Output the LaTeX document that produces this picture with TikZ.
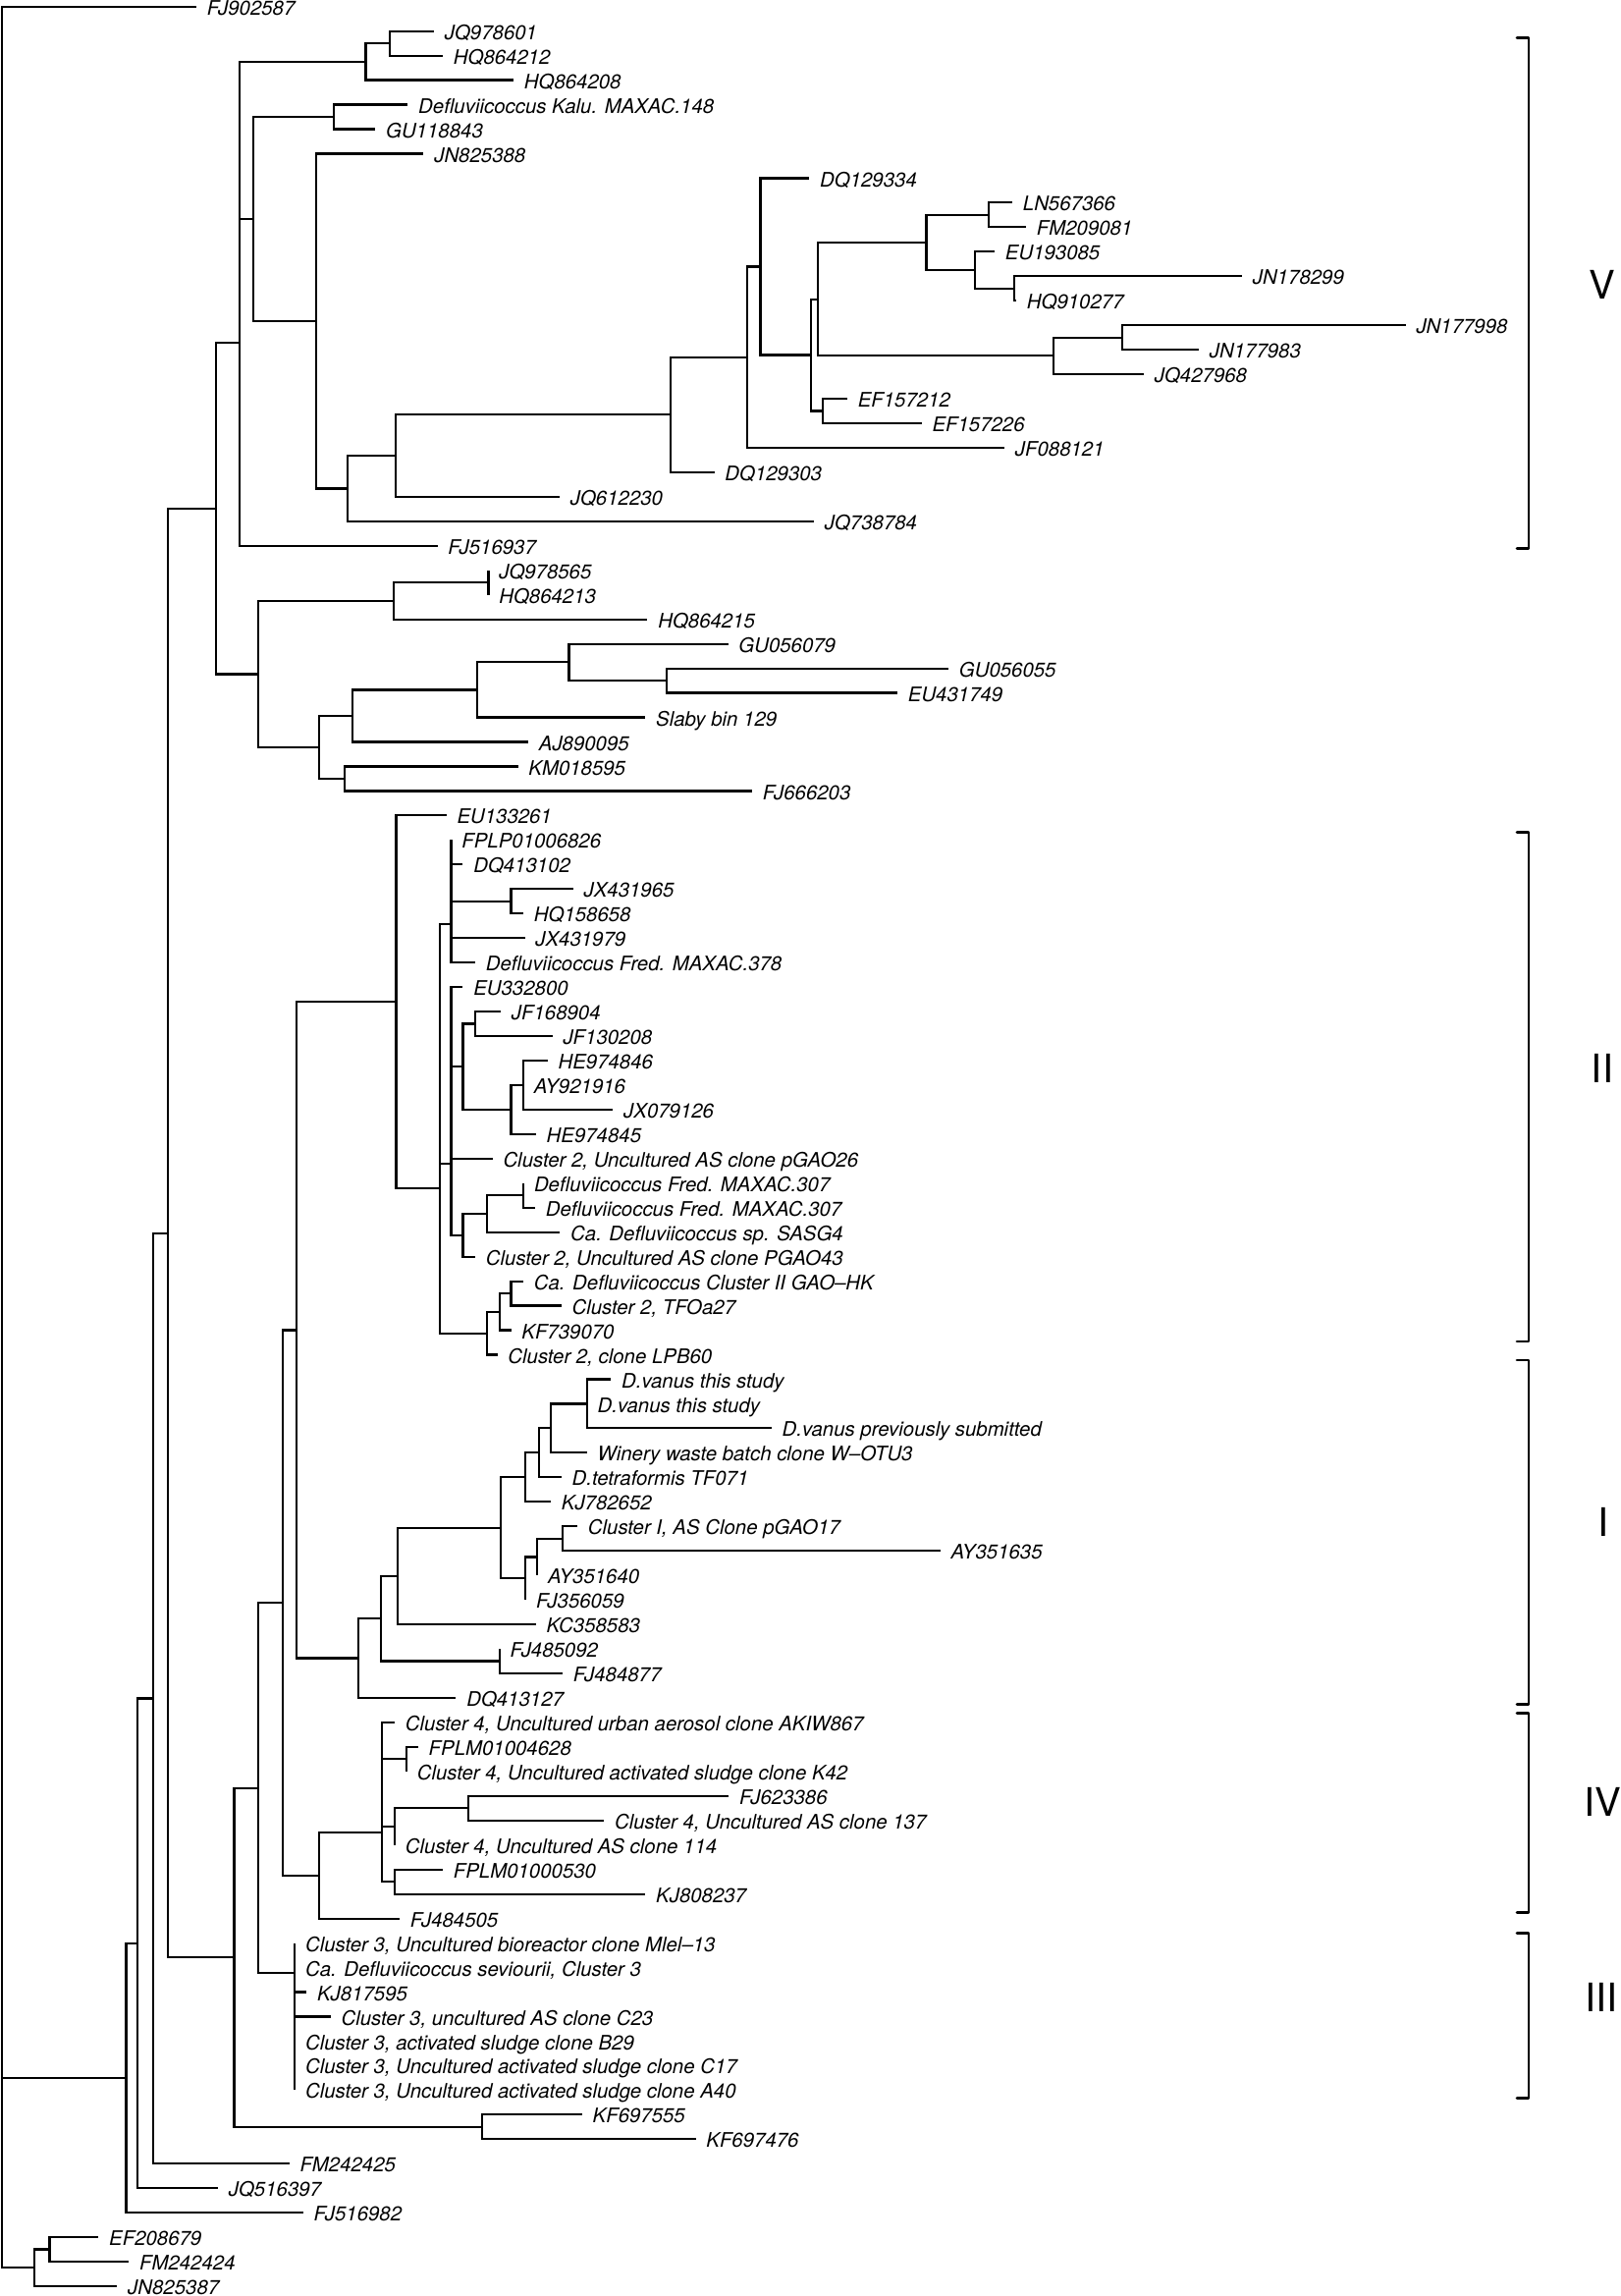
\documentclass[tikz,border=0pt]{standalone}
\usepackage{fontspec}
\setmainfont{TeX Gyre Heros}
\newcommand\leaf[4]{\coordinate (t#1) at (#2,#3); \node[lab] (l#1) at (t#1) {#4};}
\begin{document}
\begin{tikzpicture}[x=0.5pt,y=-0.5pt,
  br/.style={line width=1.1pt},
  lab/.style={anchor=base west, inner sep=0pt, xshift=5.25pt, yshift=-4.3pt, font=\fontsize{10.2}{12}\selectfont\itshape},
  roman/.style={font=\fontsize{20}{24}\selectfont, inner sep=0pt},
  brk/.style={line width=1.4pt, line join=round, line cap=round}]
\fill[white] (0,0) rectangle (1650,2338);
\path[use as bounding box] (0,0) rectangle (1650,2338);
% internal nodes
\coordinate (root) at (2,1160);
\coordinate (nOg) at (35,2309.26);
\coordinate (nOg1) at (50.5,2290.54);
\coordinate (nW) at (128.4,2115.94);
\coordinate (nV) at (140.3,1978.77);
\coordinate (nU) at (155.7,1729.39);
\coordinate (nH) at (171,1255.59);
\coordinate (nG) at (219.6,517.93);
\coordinate (nF) at (244,349.38);
\coordinate (nB) at (372.5,62.86);
\coordinate (nA) at (397,44.14);
\coordinate (nD) at (258,223);
\coordinate (nC) at (340,119.02);
\coordinate (nE) at (322,326.98);
\coordinate (nI) at (354.3,497.49);
\coordinate (nJ) at (402.7,464.12);
\coordinate (nK) at (682.6,422.34);
\coordinate (nL) at (761,363.75);
\coordinate (nM) at (774.5,271.51);
\coordinate (nN) at (825.7,361.6);
\coordinate (nO) at (832.7,304.66);
\coordinate (nP) at (943.5,246.94);
\coordinate (nPa) at (1006.7,218.86);
\coordinate (nPb) at (992.6,275.02);
\coordinate (nPc) at (1032.6,293.74);
\coordinate (nQ) at (1073.3,362.38);
\coordinate (nR) at (1142.8,343.66);
\coordinate (nEF) at (838.3,418.54);
\coordinate (nS) at (263,686.47);
\coordinate (nSa) at (400.6,611.98);
\coordinate (nSb) at (497.4,593.26);
\coordinate (nS2) at (324.8,760.96);
\coordinate (nS3) at (359.2,728.98);
\coordinate (nS5) at (486.1,702.46);
\coordinate (nS6) at (579.4,674.38);
\coordinate (nS7) at (679,693.1);
\coordinate (nS4) at (350.8,792.94);
\coordinate (nX340) at (238.5,1993.24);
\coordinate (nX375) at (263,1820.74);
\coordinate (nX410) at (287.6,1632.18);
\coordinate (nX2) at (301.6,1354.46);
\coordinate (nII) at (403.4,1020.34);
\coordinate (nIIb) at (447.6,1210.3);
\coordinate (nIIc) at (459.5,940.7);
\coordinate (nJX) at (520.5,917.74);
\coordinate (nIId) at (459.5,1185.2);
\coordinate (nEU) at (471.4,1086.22);
\coordinate (nJF) at (484,1042.54);
\coordinate (nHE) at (520.5,1129.9);
\coordinate (nHEa) at (533,1104.94);
\coordinate (nM7) at (471.4,1257.82);
\coordinate (nM7a) at (496,1235.98);
\coordinate (nM7p) at (533.1,1217.26);
\coordinate (nIIe) at (496,1357.66);
\coordinate (nKF) at (508.6,1335.82);
\coordinate (nGAO) at (520.5,1317.1);
\coordinate (nI0) at (364.8,1688.58);
\coordinate (nKe) at (388,1648.21);
\coordinate (nKd) at (404.8,1604.92);
\coordinate (nKc) at (510,1555.78);
\coordinate (nKa) at (535.3,1504.3);
\coordinate (nTn) at (548.6,1479.34);
\coordinate (nWn) at (561,1454.38);
\coordinate (nDv) at (597.7,1429.42);
\coordinate (nKb) at (535.3,1607.26);
\coordinate (nAYa) at (547.2,1585.42);
\coordinate (nPg) at (573,1566.7);
\coordinate (nFJn) at (508.6,1691.5);
\coordinate (nX463) at (324.8,1909.9);
\coordinate (nIV) at (389.3,1866.22);
\coordinate (nK42) at (413.9,1791.34);
\coordinate (nIVa) at (402,1859.98);
\coordinate (nF137) at (477,1841.26);
\coordinate (nIVb) at (402,1916.14);
\coordinate (nC3) at (300.2,2009.3);
\coordinate (nKFc) at (491,2165.74);
% leaves
\leaf{1}{200}{6.7}{FJ902587}
\leaf{2}{442}{31.66}{JQ978601}
\leaf{3}{451}{56.62}{HQ864212}
\leaf{4}{523}{81.58}{HQ864208}
\leaf{5}{415.3}{106.54}{Defluviicoccus Kalu. MAXAC.148}
\leaf{6}{382.3}{131.5}{GU118843}
\leaf{7}{431.4}{156.46}{JN825388}
\leaf{8}{824.3}{181.42}{DQ129334}
\leaf{9}{1031}{206.38}{LN567366}
\leaf{10}{1045}{231.34}{FM209081}
\leaf{11}{1013}{256.3}{EU193085}
\leaf{12}{1265}{281.26}{JN178299}
\leaf{13}{1035}{306.22}{HQ910277}
\leaf{14}{1431.6}{331.18}{JN177998}
\leaf{15}{1221}{356.14}{JN177983}
\leaf{16}{1165}{381.1}{JQ427968}
\leaf{17}{862.9}{406.06}{EF157212}
\leaf{18}{938.6}{431.02}{EF157226}
\leaf{19}{1023}{455.98}{JF088121}
\leaf{20}{727.5}{480.94}{DQ129303}
\leaf{21}{570}{505.9}{JQ612230}
\leaf{22}{829}{530.86}{JQ738784}
\leaf{23}{445.5}{555.82}{FJ516937}
\leaf{24}{497.4}{580.78}{JQ978565}
\leaf{25}{497.4}{605.74}{HQ864213}
\leaf{26}{659.4}{630.7}{HQ864215}
\leaf{27}{741.5}{655.66}{GU056079}
\leaf{28}{966}{680.62}{GU056055}
\leaf{29}{914}{705.58}{EU431749}
\leaf{30}{657.3}{730.54}{Slaby bin 129}
\leaf{31}{538}{755.5}{AJ890095}
\leaf{32}{527.5}{780.46}{KM018595}
\leaf{33}{766}{805.42}{FJ666203}
\leaf{34}{454.6}{830.38}{EU133261}
\leaf{35}{459.5}{855.34}{FPLP01006826}
\leaf{36}{471.4}{880.3}{DQ413102}
\leaf{37}{583.7}{905.26}{JX431965}
\leaf{38}{533}{930.22}{HQ158658}
\leaf{39}{534.5}{955.18}{JX431979}
\leaf{40}{484}{980.14}{Defluviicoccus Fred. MAXAC.378}
\leaf{41}{471.4}{1005.1}{EU332800}
\leaf{42}{510}{1030.06}{JF168904}
\leaf{43}{562.6}{1055.02}{JF130208}
\leaf{44}{557.7}{1079.98}{HE974846}
\leaf{45}{533}{1104.94}{AY921916}
\leaf{46}{624.3}{1129.9}{JX079126}
\leaf{47}{545.8}{1154.86}{HE974845}
\leaf{48}{501.6}{1179.82}{Cluster 2, Uncultured AS clone pGAO26}
\leaf{49}{533.1}{1204.78}{Defluviicoccus Fred. MAXAC.307}
\leaf{50}{545}{1229.74}{Defluviicoccus Fred. MAXAC.307}
\leaf{51}{570.3}{1254.7}{Ca. Defluviicoccus sp. SASG4}
\leaf{52}{484}{1279.66}{Cluster 2, Uncultured AS clone PGAO43}
\leaf{53}{533}{1304.62}{Ca. Defluviicoccus Cluster II GAO–HK}
\leaf{54}{571.7}{1329.58}{Cluster 2, TFOa27}
\leaf{55}{520.5}{1354.54}{KF739070}
\leaf{56}{506.5}{1379.5}{Cluster 2, clone LPB60}
\leaf{57}{622.2}{1404.46}{D.vanus this study}
\leaf{58}{597.7}{1429.42}{D.vanus this study}
\leaf{59}{785.7}{1454.38}{D.vanus previously submitted}
\leaf{60}{597.7}{1479.34}{Winery waste batch clone W–OTU3}
\leaf{61}{571.7}{1504.3}{D.tetraformis TF071}
\leaf{62}{561}{1529.26}{KJ782652}
\leaf{63}{588}{1554.22}{Cluster I, AS Clone pGAO17}
\leaf{64}{957.6}{1579.18}{AY351635}
\leaf{65}{547.2}{1604.14}{AY351640}
\leaf{66}{535.3}{1629.1}{FJ356059}
\leaf{67}{545.8}{1654.06}{KC358583}
\leaf{68}{508.6}{1679.02}{FJ485092}
\leaf{69}{573}{1703.98}{FJ484877}
\leaf{70}{464.4}{1728.94}{DQ413127}
\leaf{71}{402}{1753.9}{Cluster 4, Uncultured urban aerosol clone AKIW867}
\leaf{72}{425.8}{1778.86}{FPLM01004628}
\leaf{73}{413.9}{1803.82}{Cluster 4, Uncultured activated sludge clone K42}
\leaf{74}{742.2}{1828.78}{FJ623386}
\leaf{75}{615.2}{1853.74}{Cluster 4, Uncultured AS clone 137}
\leaf{76}{402}{1878.7}{Cluster 4, Uncultured AS clone 114}
\leaf{77}{451}{1903.66}{FPLM01000530}
\leaf{78}{657.3}{1928.62}{KJ808237}
\leaf{79}{406.9}{1953.58}{FJ484505}
\leaf{80}{300.2}{1978.54}{Cluster 3, Uncultured bioreactor clone Mlel–13}
\leaf{81}{300.2}{2003.5}{Ca. Defluviicoccus seviourii, Cluster 3}
\leaf{82}{312.2}{2028.46}{KJ817595}
\leaf{83}{336.7}{2053.42}{Cluster 3, uncultured AS clone C23}
\leaf{84}{300.2}{2078.38}{Cluster 3, activated sludge clone B29}
\leaf{85}{300.2}{2103.34}{Cluster 3, Uncultured activated sludge clone C17}
\leaf{86}{300.2}{2128.3}{Cluster 3, Uncultured activated sludge clone A40}
\leaf{87}{592.8}{2153.26}{KF697555}
\leaf{88}{708.5}{2178.22}{KF697476}
\leaf{89}{294.6}{2203.18}{FM242425}
\leaf{90}{222}{2228.14}{JQ516397}
\leaf{91}{308.7}{2253.1}{FJ516982}
\leaf{92}{100.3}{2278.06}{EF208679}
\leaf{93}{131.2}{2303.02}{FM242424}
\leaf{94}{119.3}{2327.98}{JN825387}
% branches
\foreach \p/\c in {root/t1,root/nW,root/nOg,nOg/nOg1,nOg/t94,nOg1/t92,nOg1/t93,
  nW/nV,nW/t91,nV/nU,nV/t90,nU/nH,nU/t89,nH/nG,nH/nX340,nG/nF,nG/nS,
  nF/nB,nF/nD,nF/t23,nB/nA,nB/t4,nA/t2,nA/t3,nD/nC,nD/nE,nC/t5,nC/t6,
  nE/t7,nE/nI,nI/nJ,nI/t22,nJ/nK,nJ/t21,nK/nL,nK/t20,nL/nM,nL/t19,nM/t8,nM/nN,
  nN/nO,nN/nEF,nO/nP,nO/nQ,nP/nPa,nP/nPb,nPa/t9,nPa/t10,nPb/t11,nPb/nPc,nPc/t12,nPc/t13,
  nQ/nR,nQ/t16,nR/t14,nR/t15,nEF/t17,nEF/t18,
  nS/nSa,nS/nS2,nSa/nSb,nSa/t26,nSb/t24,nSb/t25,nS2/nS3,nS2/nS4,nS3/nS5,nS3/t31,
  nS5/nS6,nS5/t30,nS6/t27,nS6/nS7,nS7/t28,nS7/t29,nS4/t32,nS4/t33,
  nX340/nX375,nX340/nKFc,nKFc/t87,nKFc/t88,nX375/nX410,nX375/nC3,
  nC3/t80,nC3/t81,nC3/t82,nC3/t83,nC3/t84,nC3/t85,nC3/t86,
  nX410/nX2,nX410/nX463,nX2/nII,nX2/nI0,nII/t34,nII/nIIb,
  nIIb/nIIc,nIIb/nIId,nIIb/nIIe,nIIc/t35,nIIc/t36,nIIc/nJX,nIIc/t39,nIIc/t40,nJX/t37,nJX/t38,
  nIId/t41,nIId/nEU,nIId/t48,nIId/nM7,nEU/nJF,nEU/nHE,nJF/t42,nJF/t43,nHE/nHEa,nHE/t47,
  nHEa/t44,nHEa/t45,nHEa/t46,nM7/nM7a,nM7/t52,nM7a/nM7p,nM7a/t51,nM7p/t49,nM7p/t50,
  nIIe/nKF,nIIe/t56,nKF/nGAO,nKF/t55,nGAO/t53,nGAO/t54,
  nI0/nKe,nI0/t70,nKe/nKd,nKe/nFJn,nKd/nKc,nKd/t67,nKc/nKa,nKc/nKb,nKa/nTn,nKa/t62,
  nTn/nWn,nTn/t61,nWn/nDv,nWn/t60,nDv/t57,nDv/t58,nDv/t59,nKb/nAYa,nKb/t66,nAYa/nPg,nAYa/t65,
  nPg/t63,nPg/t64,nFJn/t68,nFJn/t69,
  nX463/nIV,nX463/t79,nIV/t71,nIV/nK42,nIV/nIVa,nIV/nIVb,nK42/t72,nK42/t73,
  nIVa/nF137,nIVa/t76,nF137/t74,nF137/t75,nIVb/t77,nIVb/t78}
  {\draw[br] (\p) |- (\c);}
% clade brackets
\foreach \k/\top/\bot in {V/38.3/558.7,II/847.2/1365.9,I/1384.9/1735.7,IV/1744.7/1947.8,III/1968.2/2136.4}{
  \coordinate (b\k t) at (1557,\top);
  \coordinate (b\k b) at (1557,\bot);
  \draw[brk] ([xshift=-6pt]b\k t) -- (b\k t) -- (b\k b) -- ([xshift=-6pt]b\k b);
}
\node[roman] (rV) at (1632,290) {V};
\node[roman] (rII) at (1632,1088) {II};
\node[roman] (rI) at (1633,1550) {I};
\node[roman] (rIV) at (1632,1835) {IV};
\node[roman] (rIII) at (1631,2034) {III};
\end{tikzpicture}
\end{document}
